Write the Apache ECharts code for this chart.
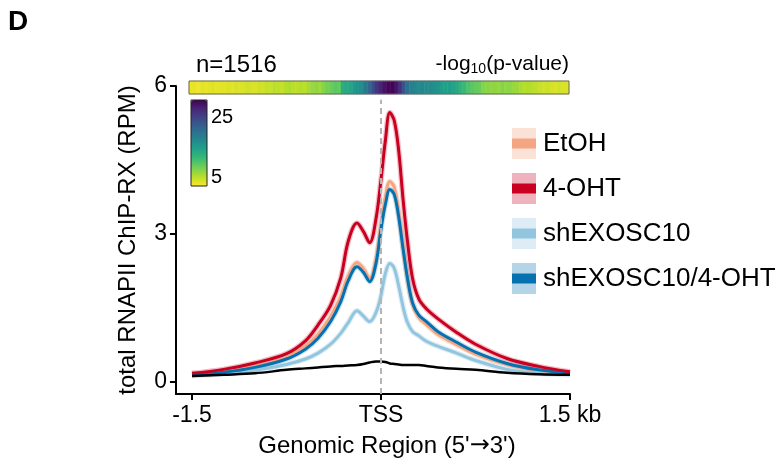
<!DOCTYPE html>
<html>
<head>
<meta charset="utf-8">
<script src="https://cdn.jsdelivr.net/npm/echarts@6/dist/echarts.min.js"></script>
<style>html,body{margin:0;padding:0;background:#fff}#c{width:784px;height:465px}</style>
</head>
<body>
<div id="c"></div>
<script>
// ---- data ----
const xKb = [-1.5,-1.25,-1.0,-0.75,-0.6,-0.5,-0.4,-0.32,-0.26,-0.19,-0.14,-0.09,-0.04,0,0.035,0.07,0.105,0.14,0.175,0.21,0.25,0.3,0.36,0.45,0.6,0.75,1.0,1.25,1.5];
const etoh     = [0.15,0.21,0.31,0.50,0.72,0.96,1.32,1.72,2.15,2.42,2.30,2.10,2.48,3.20,3.75,4.06,3.95,3.45,2.75,2.10,1.58,1.30,1.16,0.96,0.75,0.56,0.35,0.23,0.17];
const oht      = [0.17,0.25,0.38,0.57,0.83,1.15,1.55,2.10,2.85,3.22,3.05,2.82,3.30,4.10,4.90,5.46,5.30,4.70,3.70,2.85,2.10,1.68,1.48,1.28,1.00,0.76,0.47,0.31,0.20];
const shExo    = [0.12,0.16,0.23,0.35,0.46,0.58,0.76,0.98,1.20,1.44,1.33,1.22,1.40,1.75,2.20,2.40,2.30,1.95,1.52,1.20,1.02,0.93,0.82,0.72,0.58,0.43,0.25,0.17,0.14];
const shExoOht = [0.14,0.19,0.29,0.46,0.66,0.88,1.22,1.62,2.05,2.33,2.22,2.03,2.40,3.10,3.60,3.90,3.80,3.35,2.70,2.10,1.60,1.35,1.22,1.02,0.80,0.60,0.37,0.24,0.17];
const inputCtl = [0.115,0.14,0.17,0.24,0.27,0.29,0.31,0.32,0.33,0.34,0.36,0.39,0.41,0.41,0.40,0.37,0.36,0.35,0.34,0.34,0.34,0.34,0.32,0.29,0.26,0.24,0.18,0.15,0.14];
const seriesNames = ['EtOH','4-OHT','shEXOSC10','shEXOSC10/4-OHT'];
const lineColors  = ['#f4a582','#ca0020','#92c5de','#0571b0'];
const bandColors  = ['#fbe2d7','#efb3be','#deedf5','#b4d4e7'];
const haloColors  = ['rgba(244,165,130,0.35)','rgba(202,0,32,0.25)','rgba(146,197,222,0.3)','rgba(5,113,176,0.2)'];
const xTickValues = [-1.5, 0, 1.5];
const xTickLabels = ['-1.5','TSS','1.5 kb'];
const yTickValues = [0, 3, 6];
const cbTickValues = [5, 25];
const pvalBins = [2.8,3.0,2.6,3.2,2.9,3.1,3.4,3.0,3.3,3.1,
  3.5,3.2,3.8,3.4,3.6,4.0,3.7,3.5,4.1,3.9,
  4.6,4.3,5.0,4.8,4.4,5.2,5.5,5.0,
  4.8,5.3,4.9,
  5.8,6.5,6.9,6.2,7.4,
  8.3,8.8,9.5,9.0,
  13.0,13.6,14.0,
  15.2,16.0,16.6,
  19.5,21.5,24.5,26.5,28.0,29.5,30.5,30.8,29.5,27.0,23.5,20.5,
  18.2,17.8,17.0,17.5,16.8,17.2,16.6,16.2,
  15.0,14.6,14.8,14.2,
  13.5,12.2,11.5,
  10.2,9.6,9.0,8.8,
  7.5,7.2,6.8,7.0,6.6,
  7.4,6.9,7.1,6.5,6.4,
  5.6,5.2,5.4,5.0,4.8,
  4.4,4.0,4.3,3.8,3.6,4.0,3.7,3.5];
const viridisRev = ['#fde725','#b5de2b','#6ece58','#35b779','#1f9e89','#26828e','#31688e','#3e4989','#482878','#440154'];

const FONT = 'Liberation Sans';
const zip = arr => xKb.map((x, i) => [x, arr[i]]);
const curves = [etoh, oht, shExo, shExoOht];
const binCats = pvalBins.map((_, i) => String(i));

const series = [];
// confidence halos
curves.forEach((c, k) => {
  series.push({type:'line', data: zip(c), smooth:0.35, symbol:'none', silent:true,
    lineStyle:{color: haloColors[k], width:5.5}, z:1, xAxisIndex:0, yAxisIndex:0});
});
// draw order: light blue, salmon, blue, red
[2,0,3,1].forEach(k => {
  series.push({type:'line', name: seriesNames[k], data: zip(curves[k]), smooth:0.35, symbol:'none',
    color: lineColors[k], lineStyle:{color: lineColors[k], width:3}, z:3, xAxisIndex:0, yAxisIndex:0});
});
series.push({type:'line', name:'input', data: zip(inputCtl), smooth:0.35, symbol:'none',
  lineStyle:{color:'#000', width:2.5}, z:3, xAxisIndex:0, yAxisIndex:0,
  markLine:{silent:true, symbol:'none', label:{show:false},
    lineStyle:{color:'#b4b4b4', type:[6,4], width:2},
    data:[[{coord:[0,-0.25]},{coord:[0,5.72]}]]}});
series.push({type:'heatmap', xAxisIndex:1, yAxisIndex:1,
  data: pvalBins.map((v, i) => [i, 0, v]), emphasis:{disabled:true}, silent:true});
const heatIdx = series.length - 1;

const legendData = seriesNames.map((n, k) => ({name:n, itemStyle:{color: bandColors[k]}}));
const legendData2 = seriesNames.map((n, k) => ({name:n, itemStyle:{color: lineColors[k]}}));

const option = {
  animation:false,
  title:[
    {text:'D', left:8, top:8, padding:0, textStyle:{fontFamily:FONT, fontSize:28, fontWeight:'bold', color:'#000'}},
    {text:'n=1516', left:196, top:53, padding:0, textStyle:{fontFamily:FONT, fontSize:24, fontWeight:'normal', color:'#000'}},
    {text:'-log{sub|10}(p-value)', right:215, top:52, padding:0,
      textStyle:{fontFamily:FONT, fontSize:21, fontWeight:'normal', color:'#000',
        rich:{sub:{fontFamily:FONT, fontSize:14, color:'#000', padding:[10,0,0,0]}}}}
  ],
  grid:[
    {left:176, right:214, top:86, bottom:71},
    {left:189, top:81, width:380, height:13, show:true, borderColor:'#666', borderWidth:1, backgroundColor:'transparent', z:10},
    {left:191, top:100, width:16, height:86, show:true, borderColor:'#222', borderWidth:1, backgroundColor:'transparent', z:10}
  ],
  xAxis:[
    {type:'value', gridIndex:0, min:-1.627, max:1.5,
      axisLine:{show:true, onZero:false, lineStyle:{color:'#000', width:2}},
      axisTick:{show:true, customValues:xTickValues, length:6, lineStyle:{color:'#000', width:2}},
      axisLabel:{customValues:xTickValues, margin:10, fontFamily:FONT, fontSize:23, color:'#000',
        formatter: v => xTickLabels[xTickValues.indexOf(v)]},
      splitLine:{show:false},
      name:"Genomic Region (5'{ar|\u2192}3')", nameLocation:'middle', nameGap:40,
      nameTextStyle:{fontFamily:FONT, fontSize:24, color:'#000', padding:[0,0,0,28],
        rich:{ar:{fontFamily:'DejaVu Sans', fontSize:24, color:'#000'}}}},
    {type:'category', gridIndex:1, data:binCats, show:false},
    {type:'value', gridIndex:2, show:false, min:0, max:1}
  ],
  yAxis:[
    {type:'value', gridIndex:0, min:-0.25, max:6,
      axisLine:{show:true, onZero:false, lineStyle:{color:'#000', width:2}},
      axisTick:{show:true, customValues:yTickValues, length:6, lineStyle:{color:'#000', width:2}},
      axisLabel:{customValues:yTickValues, margin:9, fontFamily:FONT, fontSize:23, color:'#000'},
      splitLine:{show:false},
      name:'total RNAPII ChIP-RX (RPM)', nameLocation:'middle', nameGap:36,
      nameTextStyle:{fontFamily:FONT, fontSize:24, color:'#000'}},
    {type:'category', gridIndex:1, data:['p'], show:false},
    {type:'value', gridIndex:2, min:2, max:31, position:'right',
      axisLine:{show:false}, axisTick:{show:false}, splitLine:{show:false},
      axisLabel:{customValues:cbTickValues, margin:4, fontFamily:FONT, fontSize:20, color:'#000'}}
  ],
  visualMap:{type:'continuous', min:2, max:31, seriesIndex:heatIdx, dimension:2,
    orient:'vertical', left:191, top:100, itemWidth:16, itemHeight:86, padding:0,
    calculable:false, text:null, hoverLink:false,
    inRange:{color:viridisRev}},
  legend:[
    {data:legendData, orient:'vertical', left:512, top:128, padding:0, itemWidth:24, itemHeight:31, itemGap:14,
      icon:'rect', itemStyle:{borderWidth:0}, selectedMode:false,
      textStyle:{fontFamily:FONT, fontSize:26, color:'#000', padding:[0,0,0,2]}},
    {data:legendData2, orient:'vertical', left:512, top:128, padding:0, itemWidth:24, itemHeight:31, itemGap:14,
      icon:'path://M0,0L0,0M0,10.5L24,10.5L24,20.5L0,20.5ZM24,31L24,31', itemStyle:{borderWidth:0}, selectedMode:false,
      textStyle:{fontFamily:FONT, fontSize:26, color:'rgba(0,0,0,0)', padding:[0,0,0,2]}, z:5}
  ],
  series: series
};
const chart = echarts.init(document.getElementById('c'), null, {renderer:'canvas'});
chart.setOption(option);
</script>
</body>
</html>
